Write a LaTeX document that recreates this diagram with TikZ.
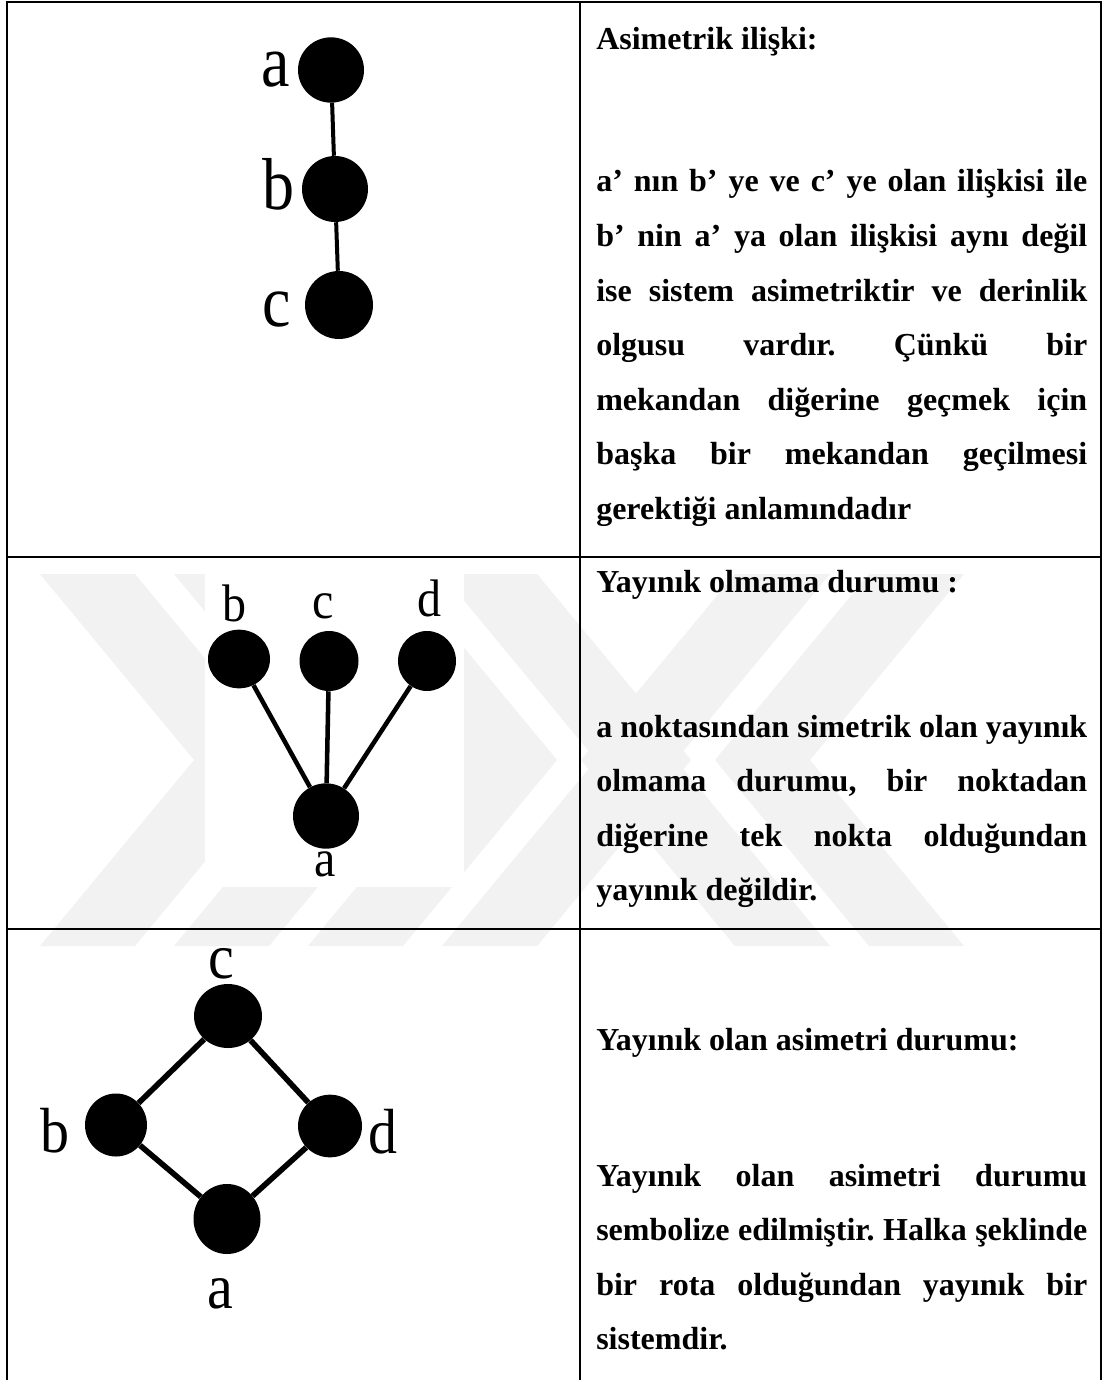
\documentclass[tikz,border=0pt]{standalone}
\usepackage{fontspec}
\setmainfont{Liberation Serif}
\usepackage{graphicx}
\usetikzlibrary{shapes.geometric}

\newcommand{\tallchar}[2]{\scalebox{1}[#1]{#2}}

\tikzset{
  dot/.style={ellipse,fill=black,draw=none,inner sep=0pt},
  lbl/.style={inner sep=0pt,anchor=base},
  tbl/.style={line width=2pt},
  wmark/.style={fill=black!5,draw=none},
  ttl/.style={inner sep=0pt,anchor=base west,font=\fontsize{24}{40.9}\selectfont\bfseries},
  para/.style={inner sep=0pt,anchor=base west,text width=368.25pt,align=justify,font=\fontsize{24}{40.9}\selectfont\bfseries\frenchspacing}
}

\begin{document}
\begin{tikzpicture}[x=0.75pt,y=0.75pt,yscale=-1,xscale=1]
\useasboundingbox (0,0) rectangle (1103,1380);
\fill[white] (0,0) rectangle (1103,1380);

%Watermark: chevrons meeting in the middle
\begin{scope}
\clip (7,574) rectangle (1101,946);
\fill[wmark] (40,574) -- (135,574) -- (289,760) -- (135,946) -- (40,946) -- (194,760) -- cycle;
\fill[wmark] (174,574) -- (269,574) -- (423,760) -- (269,946) -- (174,946) -- (328,760) -- cycle;
\fill[wmark] (308,574) -- (403,574) -- (557,760) -- (403,946) -- (308,946) -- (462,760) -- cycle;
\fill[wmark] (442,574) -- (537,574) -- (691,760) -- (537,946) -- (442,946) -- (596,760) -- cycle;
\fill[wmark] (735,574) -- (830,574) -- (676,760) -- (830,946) -- (735,946) -- (581,760) -- cycle;
\fill[wmark] (869,574) -- (964,574) -- (810,760) -- (964,946) -- (869,946) -- (715,760) -- cycle;
\end{scope}
%Blank behind middle graph
\fill[white] (205,573) rectangle (464,887);

%Table lines
\draw[tbl] (7,1390) -- (7,2) -- (1101,2) -- (1101,1390);
\draw[tbl] (580,2) -- (580,1390);
\draw[tbl] (7,557) -- (1101,557);
\draw[tbl] (7,929) -- (1101,929);

%Row 1: chain a-b-c
\node[dot,minimum width=49.5pt,minimum height=49pt] (a1) at (331,70) {};
\node[dot,minimum width=49.5pt,minimum height=49.5pt] (b1) at (335,189) {};
\node[dot,minimum width=51pt,minimum height=51pt] (c1) at (339,305) {};
\draw[line width=3pt] (a1) -- (b1);
\draw[line width=3pt] (b1) -- (c1);
% Text Node
\node[lbl,font=\fontsize{48}{48}\selectfont] (la1) at (276,87) {\tallchar{1.15}{a}};
\node[lbl,font=\fontsize{48}{48}\selectfont] (lb1) at (278,210) {\tallchar{1.15}{b}};
\node[lbl,font=\fontsize{48}{48}\selectfont] (lc1) at (277,326) {\tallchar{1.15}{c}};

%Row 2: star around a
\node[dot,minimum width=46.5pt,minimum height=44pt] (b2) at (239,659) {};
\node[dot,minimum width=44.25pt,minimum height=45pt] (c2) at (329,661) {};
\node[dot,minimum width=43.5pt,minimum height=45pt] (d2) at (427,661) {};
\node[dot,minimum width=49.5pt,minimum height=49pt] (a2) at (326,816) {};
\draw[line width=3.4pt] (b2) -- (a2);
\draw[line width=3.4pt] (c2) -- (a2);
\draw[line width=3.4pt] (d2) -- (a2);
% Text Node
\node[lbl,font=\fontsize{36}{36}\selectfont] (lb2) at (234,621) {\tallchar{1.1}{b}};
\node[lbl,font=\fontsize{36}{36}\selectfont] (lc2) at (323,618) {\tallchar{1.1}{c}};
\node[lbl,font=\fontsize{36}{36}\selectfont] (ld2) at (429,616) {\tallchar{1.1}{d}};
\node[lbl,font=\fontsize{36}{36}\selectfont] (la2) at (325,876) {\tallchar{1.1}{a}};

%Row 3: ring a-b-c-d
\node[dot,minimum width=51pt,minimum height=48pt] (c3) at (228,1016) {};
\node[dot,minimum width=46.5pt,minimum height=47.25pt] (b3) at (116,1125) {};
\node[dot,minimum width=48pt,minimum height=47pt] (d3) at (330,1126) {};
\node[dot,minimum width=50.25pt,minimum height=52.5pt] (a3) at (227,1219) {};
\draw[line width=4.2pt] (c3) -- (b3);
\draw[line width=4.2pt] (c3) -- (d3);
\draw[line width=4.2pt] (b3) -- (a3);
\draw[line width=4.2pt] (d3) -- (a3);
% Text Node
\node[lbl,font=\fontsize{43.5}{43.5}\selectfont] (lc3) at (221,978) {\tallchar{1.1}{c}};
\node[lbl,font=\fontsize{43.5}{43.5}\selectfont] (lb3) at (55,1152) {\tallchar{1.1}{b}};
\node[lbl,font=\fontsize{43.5}{43.5}\selectfont] (ld3) at (383,1153) {\tallchar{1.1}{d}};
\node[lbl,font=\fontsize{43.5}{43.5}\selectfont] (la3) at (220,1308) {\tallchar{1.1}{a}};

% Text Node
\node[ttl] (t1) at (596,50) {Asimetrik ilişki:};
\node[para] (p1) at (596,192) {a’ nın b’ ye ve c’ ye olan ilişkisi ile\linebreak
b’ nin a’ ya olan ilişkisi aynı değil\linebreak
ise sistem asimetriktir ve derinlik\linebreak
olgusu vardır. Çünkü bir\linebreak
mekandan diğerine geçmek için\linebreak
başka bir mekandan geçilmesi\linebreak
gerektiği anlamındadır};
% Text Node
\node[ttl] (t2) at (596,592) {Yayınık olmama durumu :};
\node[para] (p2) at (596,737) {a noktasından simetrik olan yayınık\linebreak
olmama durumu, bir noktadan\linebreak
diğerine tek nokta olduğundan\linebreak
yayınık değildir.};
% Text Node
\node[ttl] (t3) at (596,1050) {Yayınık olan asimetri durumu:};
\node[para] (p3) at (596,1186) {Yayınık olan asimetri durumu\linebreak
sembolize edilmiştir. Halka şeklinde\linebreak
bir rota olduğundan yayınık bir\linebreak
sistemdir.};

\end{tikzpicture}
\end{document}
